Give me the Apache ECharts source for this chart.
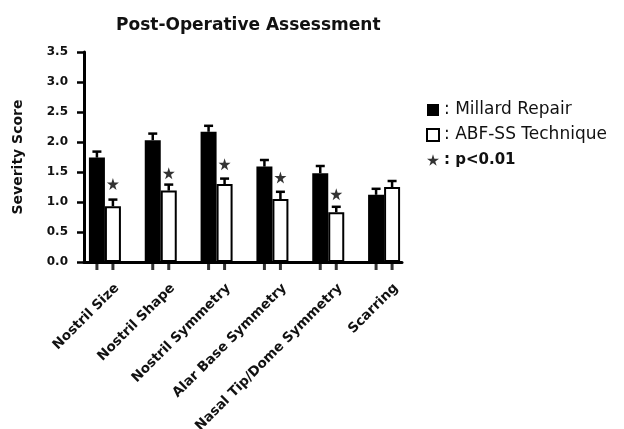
<!DOCTYPE html>
<html>
<head>
<meta charset="utf-8">
<script src="https://cdn.jsdelivr.net/npm/echarts@6/dist/echarts.min.js"></script>
<style>
html,body{margin:0;padding:0;background:#fff;}
#c{width:624px;height:429px;}
</style>
</head>
<body>
<div id="c"></div>
<script>
const categories = ['Nostril Size','Nostril Shape','Nostril Symmetry','Alar Base Symmetry','Nasal Tip/Dome Symmetry','Scarring'];
const millard = [1.74, 2.03, 2.17, 1.59, 1.48, 1.12];
const millardErr = [0.10, 0.11, 0.10, 0.11, 0.12, 0.10];
const abf = [0.93, 1.19, 1.30, 1.05, 0.83, 1.25];
const abfErr = [0.11, 0.10, 0.09, 0.12, 0.09, 0.10];
const starY = [1.30, 1.48, 1.63, 1.41, 1.13, null];
const yTicks = [0, 0.5, 1.0, 1.5, 2.0, 2.5, 3.0, 3.5];

const FONT = 'DejaVu Sans';
const STAR = 'path://M50,0 L61,35 L98,35 L68,57 L79,91 L50,70 L21,91 L32,57 L2,35 L39,35 Z';
const BAR_W = 16;

function errRender(offset){
  return function(params, api){
    const i = api.value(0), m = api.value(1), e = api.value(2);
    const p0 = api.coord([i, m]);
    const p1 = api.coord([i, m + e]);
    const x = p0[0] + offset;
    const style = {stroke:'#000', lineWidth:2.5};
    return {type:'group', children:[
      {type:'line', shape:{x1:x, y1:p0[1], x2:x, y2:p1[1]}, style:style},
      {type:'line', shape:{x1:x-4.5, y1:p1[1], x2:x+4.5, y2:p1[1]}, style:style}
    ]};
  };
}

const chart = echarts.init(document.getElementById('c'), null, {renderer:'canvas'});
chart.setOption({
  backgroundColor:'#fff',
  animation:false,
  textStyle:{fontFamily:FONT},
  title:{
    text:'Post-Operative Assessment',
    left:111, top:12,
    textStyle:{fontFamily:FONT, fontWeight:'bold', fontSize:17, color:'#111'}
  },
  legend:{
    orient:'vertical', left:421, top:96,
    itemWidth:12, itemHeight:12, itemGap:7,
    data:[{name:'Millard Repair', icon:'rect'},{name:'ABF-SS Technique', icon:'rect'},{name:'p<0.01'}],
    formatter:function(n){ return n==='p<0.01' ? '{b|: p<0.01}' : ': ' + n; },
    textStyle:{fontFamily:FONT, fontSize:17, color:'#111', lineHeight:18,
      rich:{b:{fontFamily:FONT, fontWeight:'bold', fontSize:15, color:'#111'}}}
  },
  grid:[
    {left:77, right:212, top:52, bottom:167, containLabel:false, outerBoundsMode:'none'},
    {left:84, right:222, top:52, bottom:167, containLabel:false, outerBoundsMode:'none'}
  ],
  xAxis:[{
    type:'category', data:categories, boundaryGap:true, gridIndex:0,
    axisLine:{show:false, onZero:false}, axisTick:{show:false},
    axisLabel:{rotate:45, margin:12, verticalAlign:'top', lineHeight:34,
      fontFamily:FONT, fontWeight:'bold', fontSize:13.5, color:'#111', interval:0}
  },{
    type:'value', min:0, max:1, gridIndex:1, position:'bottom',
    axisLine:{show:true, onZero:false, lineStyle:{color:'#000', width:3}},
    axisTick:{show:false}, axisLabel:{show:false}, splitLine:{show:false}
  }],
  yAxis:[{
    type:'value', min:0, max:3.5, interval:0.5, gridIndex:0, show:false
  },{
    type:'value', min:0, max:3.5, interval:0.5, gridIndex:1,
    name:'Severity Score', nameLocation:'middle', nameGap:59, nameRotate:90,
    nameTextStyle:{fontFamily:FONT, fontWeight:'bold', fontSize:14, color:'#111'},
    axisLine:{show:true, onZero:false, lineStyle:{color:'#000', width:3}},
    axisTick:{show:true, length:7, lineStyle:{color:'#000', width:2.5}},
    axisLabel:{margin:16, fontFamily:FONT, fontWeight:'bold', fontSize:12, color:'#111',
      formatter:function(v){ return v.toFixed(1); }},
    splitLine:{show:false}
  }],
  series:[
    {name:'Millard Repair', type:'bar', data:millard, barWidth:BAR_W, barGap:'0%',
      itemStyle:{color:'#000'}, z:2},
    {name:'ABF-SS Technique', type:'bar', data:abf, barWidth:BAR_W, barGap:'0%',
      itemStyle:{color:'#fff', borderColor:'#000', borderWidth:2}, z:2},
    {type:'custom', renderItem:errRender(-8), z:3,
      data:millard.map((v,i)=>[i, v, millardErr[i]]), encode:{x:0, y:1}},
    {type:'custom', renderItem:errRender(8), z:3,
      data:abf.map((v,i)=>[i, v, abfErr[i]]), encode:{x:0, y:1}},
    {name:'p<0.01', type:'scatter', symbol:STAR, symbolSize:12, symbolOffset:[8,0],
      itemStyle:{color:'#000'}, clip:false, z:4,
      data:starY.map((v,i)=> v==null ? null : [i, v])},
    {type:'scatter', symbol:'rect', symbolSize:[3,8], symbolOffset:[-8,4], clip:false,
      itemStyle:{color:'#000'}, z:4, silent:true,
      data:categories.map((c,i)=>[i, 0])},
    {type:'scatter', symbol:'rect', symbolSize:[3,8], symbolOffset:[8,4], clip:false,
      itemStyle:{color:'#000'}, z:4, silent:true,
      data:categories.map((c,i)=>[i, 0])}
  ]
});
</script>
</body>
</html>
